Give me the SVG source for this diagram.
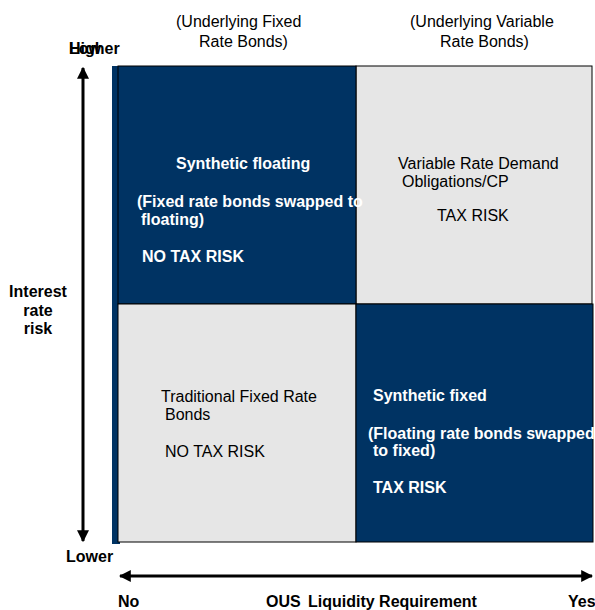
<svg xmlns="http://www.w3.org/2000/svg" width="595" height="610" viewBox="0 0 595 610">
<style>
text{font-family:"Liberation Sans",Arial,sans-serif;font-size:16px;fill:#000}
.b{font-weight:bold}
.w{fill:#fff;font-weight:bold}
.dark{fill:#003363;stroke:#000;stroke-width:1}
.light{fill:#e6e6e6;stroke:#000;stroke-width:1}
.ax{stroke:#000;stroke-width:3;fill:none}
</style>
<defs>
<marker id="ah" viewBox="0 0 10 10" refX="9" refY="5" markerWidth="4" markerHeight="4.5" orient="auto-start-reverse" markerUnits="strokeWidth">
<path d="M0,0 L10,5 L0,10 z" fill="#000"/>
</marker>
</defs>
<rect x="112" y="66" width="8" height="478" fill="#003363"/>
<g id="q-tr">
<rect class="light" x="356" y="66" width="236" height="238"/>
<text x="398" y="169">Variable Rate Demand</text>
<text x="402" y="187">Obligations/CP</text>
<text x="437" y="221">TAX RISK</text>
</g>
<g id="q-tl">
<rect class="dark" x="118" y="66" width="238" height="238"/>
<text class="w" x="176" y="169">Synthetic floating</text>
<text class="w" x="137" y="207">(Fixed rate bonds swapped to</text>
<text class="w" x="141" y="225">floating)</text>
<text class="w" x="142" y="262">NO TAX RISK</text>
</g>
<g id="q-bl">
<rect class="light" x="118" y="304" width="238" height="238"/>
<text x="161" y="402">Traditional Fixed Rate</text>
<text x="165" y="420">Bonds</text>
<text x="165" y="457">NO TAX RISK</text>
</g>
<g id="q-br">
<rect class="dark" x="356" y="304" width="237" height="238"/>
<text class="w" x="373" y="401">Synthetic fixed</text>
<text class="w" x="368" y="439">(Floating rate bonds swapped</text>
<text class="w" x="373" y="456">to fixed)</text>
<text class="w" x="373" y="493">TAX RISK</text>
</g>
<g id="connectors">
<line class="ax" x1="83" y1="541" x2="83" y2="68" marker-end="url(#ah)" marker-start="url(#ah)"/>
<line class="ax" x1="120" y1="576" x2="592" y2="576" marker-end="url(#ah)" marker-start="url(#ah)"/>
</g>
<g id="labels">
<text x="176" y="27">(Underlying Fixed</text>
<text x="199" y="47">Rate Bonds)</text>
<text x="410" y="27">(Underlying Variable</text>
<text x="440" y="47">Rate Bonds)</text>
<text class="b" x="69" y="54">Higher</text>
<text class="b" x="69" y="54">Low</text>
<text class="b" x="66" y="562">Lower</text>
<text class="b" x="38" y="297" text-anchor="middle">Interest</text>
<text class="b" x="38" y="316" text-anchor="middle">rate</text>
<text class="b" x="38" y="334" text-anchor="middle">risk</text>
<text class="b" x="118" y="607">No</text>
<text class="b" x="266" y="607">OUS</text>
<text class="b" x="308" y="607">Liquidity Requirement</text>
<text class="b" x="568" y="607">Yes</text>
</g>
</svg>
